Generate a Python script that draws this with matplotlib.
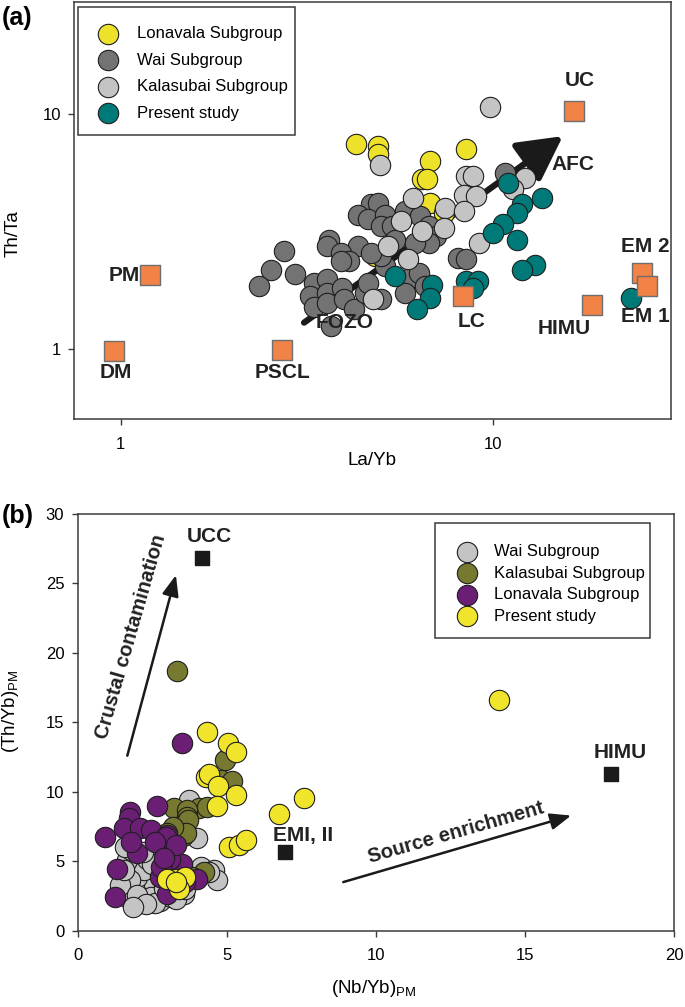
import matplotlib
matplotlib.use("Agg")
import matplotlib.pyplot as plt
from matplotlib.patches import Rectangle

plt.rcParams['font.family'] = ['Liberation Sans', 'DejaVu Sans']
plt.rcParams['mathtext.default'] = 'regular'

# ---------------- panel (a): Th/Ta vs La/Yb ----------------
lon_a_x = [4.29, 4.91, 4.91, 6.79, 8.46, 6.45, 6.65, 6.79, 7.38, 4.81]
lon_a_y = [7.40, 7.28, 6.71, 6.28, 7.05, 5.25, 5.25, 4.18, 3.79, 2.47]

wai_a_x = [10.75, 4.71, 4.91, 4.33, 4.61, 5.12, 5.01, 5.34, 5.80, 6.38, 6.72, 7.01,
           6.72, 3.63, 3.59, 4.33, 3.90, 4.11, 3.90, 2.74, 2.54, 2.94, 2.36, 3.30,
           3.59, 3.23, 3.59, 3.94, 3.30, 3.59, 3.98, 4.24, 4.52, 5.01, 5.12, 5.93,
           5.80, 6.31, 6.58, 8.03, 8.46, 3.67, 4.61, 5.45, 6.18, 5.01, 4.71]
wai_a_y = [5.61, 4.11, 4.18, 3.72, 3.55, 3.72, 3.32, 3.32, 3.85, 3.66, 3.32, 3.01,
           2.82, 2.91, 2.73, 2.73, 2.56, 2.36, 2.36, 2.60, 2.17, 2.07, 1.84, 1.90,
           1.97, 1.67, 1.73, 1.81, 1.51, 1.57, 1.62, 1.47, 1.73, 1.62, 2.24, 1.97,
           1.73, 2.10, 1.84, 2.43, 2.40, 1.25, 1.90, 2.91, 2.82, 2.47, 2.56]

kal_a_x = [9.79, 4.96, 8.46, 8.82, 12.19, 8.37, 9.00, 6.11, 7.43, 8.37, 5.68, 6.45,
           7.38, 5.23, 9.19, 5.93, 11.33, 4.76]
kal_a_y = [10.71, 6.08, 5.42, 5.42, 5.34, 4.53, 4.46, 4.39, 3.98, 3.85, 3.49, 3.16,
           3.27, 2.73, 2.82, 2.40, 4.76, 1.63]

new_a_x = [10.98, 13.53, 11.94, 11.57, 10.64, 10.00, 11.57, 12.98, 11.94, 5.45,
           6.86, 6.79, 6.25, 8.46, 9.10, 8.82, 23.5]
new_a_y = [5.08, 4.39, 4.11, 3.79, 3.38, 3.11, 2.91, 2.28, 2.17, 2.03,
           1.87, 1.64, 1.47, 1.94, 1.94, 1.81, 1.65]

ref_a_names = ['DM', 'PM', 'PSCL', 'UC', 'LC', 'HIMU', 'EM 2', 'EM 1']
ref_a_x = [0.96, 1.20, 2.72, 16.5, 8.32, 18.4, 25.2, 25.9]
ref_a_y = [0.98, 2.05, 0.99, 10.27, 1.68, 1.53, 2.09, 1.84]

# ---------------- panel (b): (Th/Yb)PM vs (Nb/Yb)PM ----------------
wai_b_x = [1.66, 1.88, 2.11, 2.56, 2.00, 1.66, 2.45, 2.78, 2.22, 1.66, 2.33, 3.57,
           4.13, 2.78, 3.12, 1.77, 1.44, 1.55, 4.57, 4.69, 3.73, 3.99, 1.80, 2.00,
           2.60, 2.30, 1.86, 3.30, 3.60, 2.90, 4.40, 2.50, 2.20, 1.60, 3.00, 3.50]
wai_b_y = [2.42, 2.05, 2.42, 3.38, 3.86, 2.90, 2.42, 2.17, 4.35, 5.07, 5.19, 2.66,
           4.59, 4.11, 2.42, 3.62, 3.26, 4.35, 4.35, 3.62, 9.42, 6.64, 5.80, 2.60,
           2.00, 1.90, 1.69, 2.30, 3.00, 3.10, 4.20, 4.80, 5.70, 6.00, 6.40, 4.50]

kal_b_x = [3.33, 4.93, 4.80, 5.17, 4.07, 4.35, 3.23, 3.68, 3.68, 3.62, 3.60, 3.55,
           3.70, 3.63, 4.24, 3.85, 3.20, 3.00]
kal_b_y = [18.72, 12.32, 10.87, 10.75, 8.82, 8.94, 8.82, 8.70, 8.21, 7.73, 7.20, 6.80,
           7.97, 7.00, 4.23, 3.86, 7.50, 7.00]

lon_b_x = [3.51, 2.67, 1.77, 1.72, 1.55, 0.91, 2.11, 2.45, 3.01, 2.00, 1.32, 1.27,
           2.95, 3.51, 3.01, 4.02, 2.89, 2.97, 1.79, 2.75, 3.11, 2.60, 2.80, 3.30,
           3.60, 2.90]
lon_b_y = [13.48, 8.99, 8.57, 8.09, 7.37, 6.72, 7.37, 7.25, 6.88, 5.56, 4.47, 2.42,
           5.68, 4.83, 2.66, 3.74, 6.04, 6.76, 6.40, 3.86, 5.19, 6.40, 4.60, 6.20,
           3.50, 5.20]

new_b_x = [14.13, 4.35, 5.06, 5.30, 4.30, 4.40, 4.71, 5.30, 4.69, 6.76, 7.60, 5.08,
           5.42, 5.64, 3.29, 3.01, 3.62, 3.40, 3.30]
new_b_y = [16.62, 14.30, 13.53, 12.87, 11.06, 11.30, 10.39, 9.78, 8.99, 8.42, 9.55, 6.00,
           6.16, 6.52, 3.74, 3.74, 3.86, 3.02, 3.50]

ref_b_names = ['UCC', 'EMI, II', 'HIMU']
ref_b_x = [4.17, 6.96, 17.9]
ref_b_y = [26.86, 5.68, 11.28]

YELLOW = '#EDE12A'
DARKGRAY = '#737373'
LIGHTGRAY = '#C4C4C4'
TEAL = '#007A78'
ORANGE = '#F08345'
OLIVE = '#76792F'
PURPLE = '#6A1E74'
INK = '#222222'
SPINE = '#3a3a3a'

S = 215

fig = plt.figure(figsize=(6.85, 10.07), dpi=100)
ax1 = fig.add_axes([74 / 685, 1 - 419.3 / 1007, 596.7 / 685, 417.6 / 1007])
ax2 = fig.add_axes([77.5 / 685, 1 - 930.7 / 1007, 596.5 / 685, 416.7 / 1007])

for ax in (ax1, ax2):
    for sp in ax.spines.values():
        sp.set_color(SPINE)
        sp.set_linewidth(1.1)
    ax.tick_params(direction='out', length=4.5, width=1.0, color=SPINE, labelsize=12)
    ax.tick_params(axis='x', pad=8)
    ax.tick_params(axis='y', pad=5)

kw = dict(s=S, edgecolors='#1e1e1e', linewidths=0.8, zorder=3)

# panel (a)
ax1.set_xscale('log')
ax1.set_yscale('log')
ax1.set_xlim(0.75, 30)
ax1.set_ylim(0.5, 30)
ax1.set_xticks([1, 10])
ax1.set_xticklabels(['1', '10'])
ax1.set_yticks([1, 10])
ax1.set_yticklabels(['1', '10'])
ax1.minorticks_off()

ax1.annotate('', xy=(15.4, 8.03), xytext=(3.11, 1.29),
             arrowprops=dict(arrowstyle='-|>,head_length=0.6,head_width=0.32',
                             lw=4.5, color='#1a1a1a', mutation_scale=45,
                             shrinkA=0, shrinkB=0), zorder=2)

ax1.scatter(lon_a_x, lon_a_y, color=YELLOW, label='Lonavala Subgroup', **kw)
ax1.scatter(wai_a_x, wai_a_y, color=DARKGRAY, label='Wai Subgroup', **kw)
ax1.scatter(kal_a_x, kal_a_y, color=LIGHTGRAY, label='Kalasubai Subgroup', **kw)
ax1.scatter(new_a_x, new_a_y, color=TEAL, label='Present study', **kw)

ax1.scatter(ref_a_x, ref_a_y, marker='s', s=200, color=ORANGE, edgecolors='#6e6e6e',
            linewidths=1.0, zorder=4)

lab = dict(fontsize=15, fontweight='bold', color=INK, zorder=5)
ax1.text(0.97, 0.79, 'DM', ha='center', va='center', **lab)
ax1.text(1.13, 2.04, 'PM', ha='right', va='center', **lab)
ax1.text(2.72, 0.79, 'PSCL', ha='center', va='center', **lab)
ax1.text(17.1, 13.8, 'UC', ha='center', va='center', **lab)
ax1.text(16.4, 6.08, 'AFC', ha='center', va='center', **lab)
ax1.text(8.74, 1.31, 'LC', ha='center', va='center', **lab)
ax1.text(15.5, 1.22, 'HIMU', ha='center', va='center', **lab)
ax1.text(25.6, 2.71, 'EM 2', ha='center', va='center', clip_on=False, **lab)
ax1.text(25.6, 1.37, 'EM 1', ha='center', va='center', clip_on=False, **lab)
ax1.text(4.0, 1.29, 'FOZO', ha='center', va='center', **lab)

ax1.set_xlabel('La/Yb', fontsize=13.5)
ax1.set_ylabel('Th/Ta', fontsize=13.5)
ax1.xaxis.set_label_coords(0.50, -0.078)
ax1.yaxis.set_label_coords(-0.088, 0.444)

leg1 = ax1.legend(loc='upper left', bbox_to_anchor=(0.029, 0.941), borderaxespad=0,
                  borderpad=0, fontsize=12, frameon=False, handlelength=2.0,
                  handletextpad=0.74, labelspacing=0.69)
ax1.add_patch(Rectangle((0.0072, 0.6808), 0.3632, 0.3058, transform=ax1.transAxes,
                        fill=False, edgecolor=SPINE, linewidth=1.1, zorder=6))

# panel (b)
ax2.set_xlim(0, 20)
ax2.set_ylim(0, 30)
ax2.set_xticks([0, 5, 10, 15, 20])
ax2.set_yticks([0, 5, 10, 15, 20, 25, 30])

ax2.scatter(wai_b_x, wai_b_y, color=LIGHTGRAY, label='Wai Subgroup', **kw)
ax2.scatter(kal_b_x, kal_b_y, color=OLIVE, label='Kalasubai Subgroup', **kw)
ax2.scatter(lon_b_x, lon_b_y, color=PURPLE, label='Lonavala Subgroup', **kw)
ax2.scatter(new_b_x, new_b_y, color='#F0E52B', label='Present study', **kw)

ax2.scatter(ref_b_x, ref_b_y, marker='s', s=100, color='#1a1a1a', zorder=4)
ax2.text(4.43, 28.4, 'UCC', ha='center', va='center', **lab)
ax2.text(7.56, 6.88, 'EMI, II', ha='center', va='center', **lab)
ax2.text(18.2, 12.85, 'HIMU', ha='center', va='center', **lab)

thin = dict(arrowstyle='-|>,head_length=0.7,head_width=0.28', lw=1.8,
            color='#1a1a1a', mutation_scale=18, shrinkA=0, shrinkB=0)
ax2.annotate('', xy=(3.30, 25.6), xytext=(1.67, 12.6), arrowprops=thin)
ax2.annotate('', xy=(16.55, 8.29), xytext=(8.91, 3.50), arrowprops=thin)
rot = dict(lab, fontsize=14.5)
ax2.text(1.80, 21.2, 'Crustal contamination', rotation=74, rotation_mode='anchor',
         ha='center', va='center', **rot)
ax2.text(12.7, 7.05, 'Source enrichment', rotation=16, rotation_mode='anchor',
         ha='center', va='center', **rot)

ax2.set_xlabel('(Nb/Yb)$_{PM}$', fontsize=13.5)
ax2.set_ylabel('(Th/Yb)$_{PM}$', fontsize=13.5)
ax2.xaxis.set_label_coords(0.497, -0.113)
ax2.yaxis.set_label_coords(-0.095, 0.526)

leg2 = ax2.legend(loc='upper left', bbox_to_anchor=(0.6245, 0.9278), borderaxespad=0,
                  borderpad=0, fontsize=12, frameon=False, handlelength=2.0,
                  handletextpad=0.63, labelspacing=0.39)
ax2.add_patch(Rectangle((0.5993, 0.7017), 0.3605, 0.276, transform=ax2.transAxes,
                        fill=False, edgecolor=SPINE, linewidth=1.1, zorder=6))

fig.text(0.003, 0.982, '(a)', fontsize=18, fontweight='bold', va='center')
fig.text(0.003, 0.488, '(b)', fontsize=18, fontweight='bold', va='center')

fig.savefig('out.png', dpi=100)
